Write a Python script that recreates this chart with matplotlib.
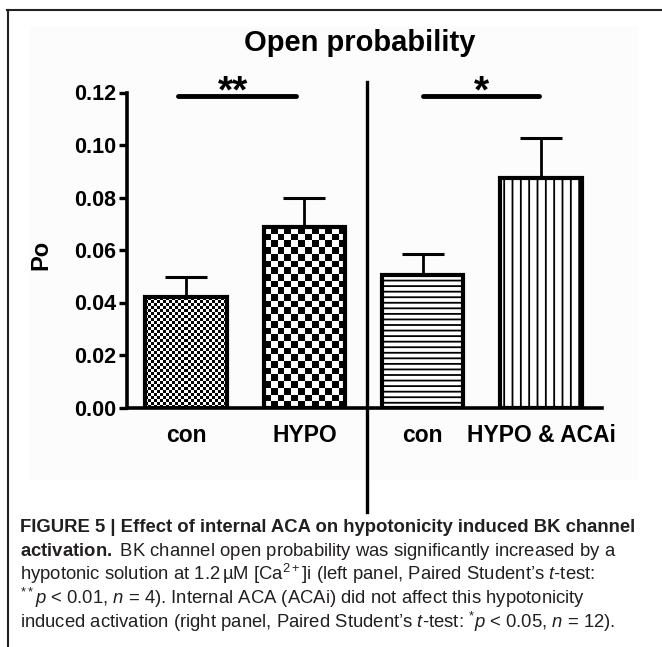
import numpy as np
import matplotlib
matplotlib.use("Agg")
import matplotlib.pyplot as plt
import matplotlib.transforms as mtransforms
from matplotlib.lines import Line2D
from matplotlib.patches import Rectangle

plt.rcParams['font.family'] = ['Liberation Sans', 'DejaVu Sans']
plt.rcParams['mathtext.fontset'] = 'custom'
plt.rcParams['mathtext.rm'] = 'Liberation Sans'
plt.rcParams['mathtext.it'] = 'Liberation Sans:italic'
plt.rcParams['mathtext.bf'] = 'Liberation Sans:bold'
plt.rcParams['hatch.linewidth'] = 1.3

# data
categories = ["con", "HYPO", "con", "HYPO & ACAi"]
po_mean = [0.0421, 0.0688, 0.0503, 0.0876]
po_sem = [0.0076, 0.0110, 0.0080, 0.0152]
fills = ["fine", "coarse", "---", "||"]
yticks = [0.00, 0.02, 0.04, 0.06, 0.08, 0.10, 0.12]
sig_labels = ["**", "*"]
sig_spans = [(-0.07, 0.93), (2.0, 2.98)]
sig_label_x = [0.4, 2.5]
sig_y = 0.1186

title = "Open probability"
ylabel = "Po"
caption_lines = [
    "FIGURE 5 | Effect of internal ACA on hypotonicity induced BK channel",
    r"$\mathbf{activation.}$ BK channel open probability was significantly increased by a",
    r"hypotonic solution at 1.2$\,$µM [Ca$^{2+}$]i (left panel, Paired Student’s $t$-test:",
    r"$^{**}p$ < 0.01, $n$ = 4). Internal ACA (ACAi) did not affect this hypotonicity",
    r"induced activation (right panel, Paired Student’s $t$-test: $^{*}p$ < 0.05, $n$ = 12).",
]


def checker(nx, ny):
    return (np.add.outer(np.arange(ny), np.arange(nx)) % 2).astype(float)


W, H = 662, 647
fig = plt.figure(figsize=(W / 100, H / 100), dpi=100)
fig.add_artist(Rectangle((30 / W, 1 - 478 / H), 607 / W, 451 / H,
                         transform=fig.transFigure, color="#fcfcfc", zorder=-5))
ax = fig.add_axes([127 / W, 1 - 407.5 / H, 475 / W, 315 / H])
ax.patch.set_facecolor("none")

x = np.arange(len(categories))
ax.set_xlim(-0.5, 3.516)
ax.set_ylim(0, 0.12)

ax.errorbar(x, po_mean, yerr=[np.zeros(len(x)), po_sem], fmt="none",
            ecolor="black", elinewidth=2, capsize=15, capthick=2.2, zorder=1)

bars = ax.bar(x, po_mean, width=0.69, color="white", edgecolor="black",
              linewidth=0, zorder=2)
px_x = ax.transData.transform((1, 0))[0] - ax.transData.transform((0, 0))[0]
px_y = ax.transData.transform((0, 1))[1] - ax.transData.transform((0, 0))[1]
for b, f in zip(bars, fills):
    if f in ("fine", "coarse"):
        cell = 3.0 if f == "fine" else 6.7
        x0, w, h = b.get_x(), b.get_width(), b.get_height()
        nx = int(round(w * px_x / cell))
        ny = int(round(h * px_y / cell))
        im = ax.imshow(checker(nx, ny), cmap="gray_r", vmin=0, vmax=1,
                       extent=(x0, x0 + w, 0, h), origin="lower",
                       interpolation="nearest", aspect="auto", zorder=2.5)
        im.set_clip_path(b)
    else:
        b.set_hatch(f)
        b.set_edgecolor("black")
ax.bar(x, po_mean, width=0.69, fill=False, edgecolor="black", linewidth=3,
       zorder=3)
ax.set_xlim(-0.5, 3.516)
ax.set_ylim(0, 0.12)

for (a, b), lab, lx in zip(sig_spans, sig_labels, sig_label_x):
    ax.plot([a, b], [sig_y, sig_y], color="black", lw=3.5,
            solid_capstyle="round", clip_on=False)
    ax.text(lx, 0.1162, lab, ha="center", va="baseline", fontsize=28,
            fontweight="bold", clip_on=False)

trans = mtransforms.blended_transform_factory(ax.transData, ax.transAxes)
ax.add_line(Line2D([1.53, 1.53], [1.033, -0.332], transform=trans,
                   color="black", lw=2.4, clip_on=False))

for s in ["top", "right"]:
    ax.spines[s].set_visible(False)
ax.spines["left"].set_linewidth(2.6)
ax.spines["bottom"].set_linewidth(2.6)
ax.spines["left"].set_bounds(0, 0.12)

ax.set_yticks(yticks)
ax.set_yticklabels([f"{v:.2f}" for v in yticks])
ax.tick_params(axis="y", length=6, width=2.4, pad=2, labelsize=15.5)
ax.set_xticks(x)
ax.set_xticklabels(categories)
ax.tick_params(axis="x", length=0, pad=12, labelsize=16.5)
for lbl in ax.get_xticklabels() + ax.get_yticklabels():
    lbl.set_fontweight("bold")

ax.set_ylabel(ylabel, fontsize=17, fontweight="bold")
ax.yaxis.set_label_coords(-0.158, 0.484)

fig.text(360 / W, 1 - 43 / H, title, ha="center", va="center",
         fontsize=21, fontweight="bold")

# frame of the figure panel
fig.add_artist(Line2D([7 / W, 1], [1 - 10 / H, 1 - 10 / H],
                      transform=fig.transFigure, color="#222222", lw=1.5))
fig.add_artist(Line2D([8 / W, 8 / W], [1 - 10 / H, 0],
                      transform=fig.transFigure, color="#222222", lw=1.5))

baselines = [532, 556, 580, 604, 628]
for i, (line, yb) in enumerate(zip(caption_lines, baselines)):
    fig.text(20 / W, 1 - yb / H, line, ha="left", va="baseline",
             fontsize=13.3, color="#231f20",
             fontweight="bold" if i == 0 else "normal")

fig.savefig("out.png", dpi=100)
